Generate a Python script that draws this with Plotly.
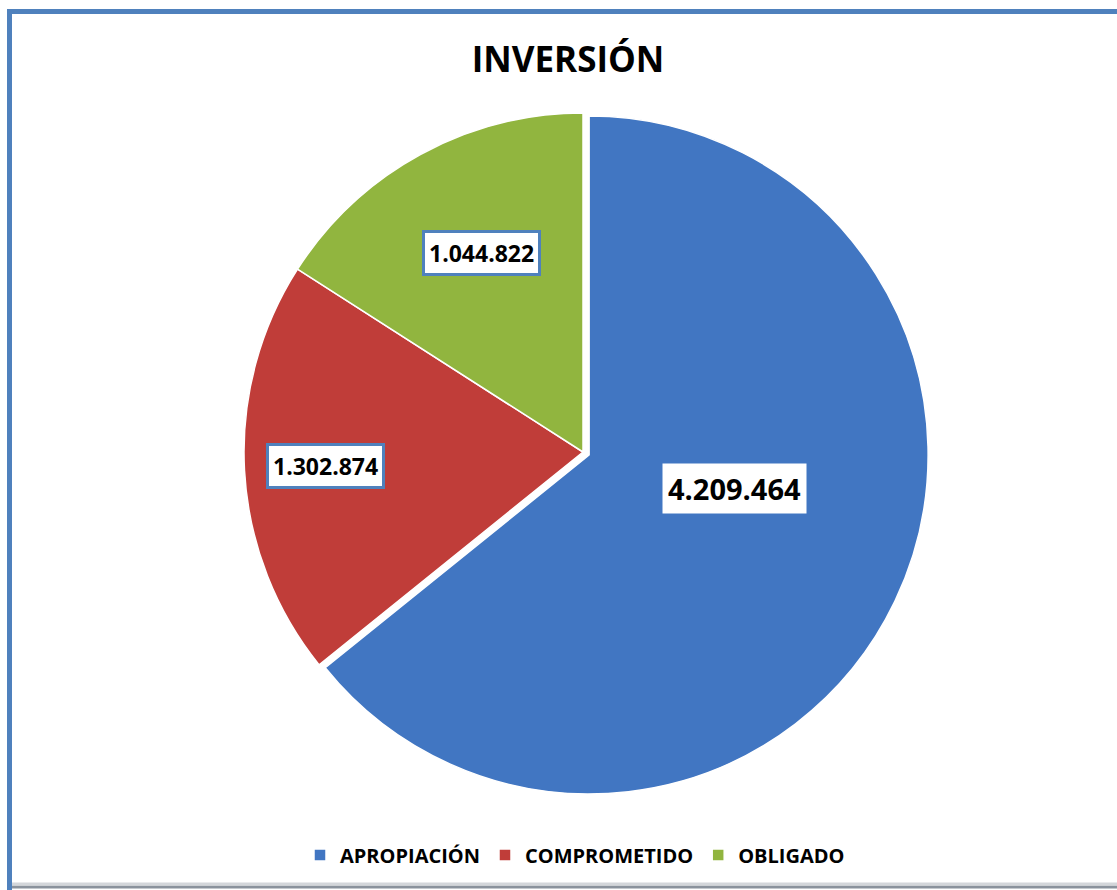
import math
import plotly.graph_objects as go

categories = ["APROPIACIÓN", "COMPROMETIDO", "OBLIGADO"]
values = [4209464, 1302874, 1044822]
value_labels = ["4.209.464", "1.302.874", "1.044.822"]

colors = ["#4176C2", "#C03D39", "#91B53F"]
pulls = [0.02, 0, 0]
label_r = [0.46, 0.76, 0.66]
label_dang = [12, 0, -1.7]
label_size = [29, 23, 23]
label_border = ["rgba(0,0,0,0)", "#4F81BD", "#4F81BD"]

W, H = 1117, 890
cx, cy, R = 583, 452, 339
span = 2 * R * (1 + max(pulls))

fig = go.Figure(go.Pie(
    labels=categories, values=values, sort=False, direction="clockwise", rotation=0,
    marker=dict(colors=colors, line=dict(color="white", width=1.5)),
    pull=pulls, textinfo="none", hoverinfo="label+value",
    domain=dict(x=[(cx - span / 2) / W, (cx + span / 2) / W],
                y=[1 - (cy + span / 2) / H, 1 - (cy - span / 2) / H]),
))

total = sum(values)
start = 90.0
annotations = []
for i, v in enumerate(values):
    sweep = 360.0 * v / total
    mid = start - sweep / 2 + label_dang[i]
    start -= sweep
    px = cx + label_r[i] * R * math.cos(math.radians(mid))
    py = cy - label_r[i] * R * math.sin(math.radians(mid))
    annotations.append(dict(
        x=px / W, y=1 - py / H, xref="paper", yref="paper", showarrow=False,
        xanchor="center", yanchor="middle",
        text=f"<b>{value_labels[i]}</b>", bgcolor="white",
        bordercolor=label_border[i], borderwidth=3, borderpad=4,
        font=dict(family="Open Sans", size=label_size[i], color="black"),
    ))

shapes = [
    dict(type="line", xref="paper", yref="paper", x0=7 / W, x1=1, y0=1 - 11.5 / H, y1=1 - 11.5 / H,
         line=dict(color="#4F81BD", width=5)),
    dict(type="line", xref="paper", yref="paper", x0=9.5 / W, x1=9.5 / W, y0=1 - 9 / H, y1=0,
         line=dict(color="#4F81BD", width=5)),
    dict(type="line", xref="paper", yref="paper", x0=12 / W, x1=1, y0=1 - 887 / H, y1=1 - 887 / H,
         line=dict(color="#8A929C", width=3)),
    dict(type="line", xref="paper", yref="paper", x0=12 / W, x1=1, y0=1 - 884 / H, y1=1 - 884 / H,
         line=dict(color="#D3D6DA", width=3)),
]

fig.update_layout(
    width=W, height=H,
    margin=dict(l=0, r=0, t=0, b=0),
    paper_bgcolor="white", plot_bgcolor="white",
    title=dict(text="<b>INVERSIÓN</b>", x=568 / W, xanchor="center", y=1 - 60 / H, yanchor="middle",
               font=dict(family="Open Sans", size=35, color="black")),
    showlegend=True,
    legend=dict(orientation="h", x=575 / W, xanchor="center", y=1 - 855 / H, yanchor="middle",
                font=dict(family="Open Sans", size=20, color="black", weight="bold"),
                itemwidth=30, traceorder="normal"),
    annotations=annotations,
    shapes=shapes,
)

fig.write_html("out.html", config={"displayModeBar": False},
               post_script="document.body.style.margin='0';document.body.style.overflow='hidden';")
